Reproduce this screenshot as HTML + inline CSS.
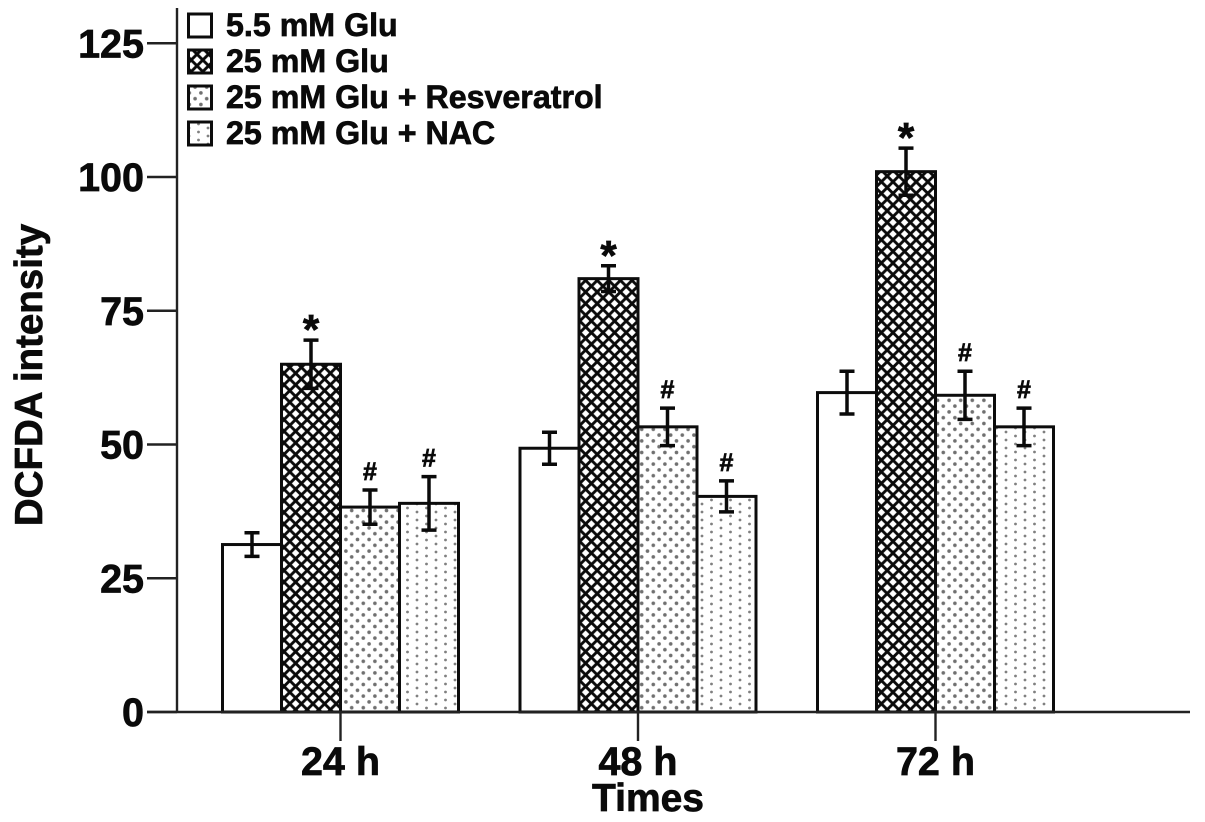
<!DOCTYPE html>
<html>
<head>
<meta charset="utf-8">
<title>DCFDA intensity chart</title>
<style>
html,body{margin:0;padding:0;background:#fff;width:1205px;height:822px;overflow:hidden}
svg{display:block}
text{font-family:"Liberation Sans",Arial,sans-serif;font-weight:bold;fill:#0a0a0a;stroke:#0a0a0a;stroke-width:0.7px}
</style>
</head>
<body>
<svg id="chart" width="1205" height="822" viewBox="0 0 1205 822" xmlns="http://www.w3.org/2000/svg">
<defs>
<pattern id="p-cross" patternUnits="userSpaceOnUse" width="11.6" height="11.6" x="284" y="2">
<rect width="11.6" height="11.6" fill="#fff"/>
<path d="M-2.9 2.9L2.9 -2.9M-2.9 14.5L14.5 -2.9M8.7 14.5L14.5 8.7M-2.9 8.7L2.9 14.5M-2.9 -2.9L14.5 14.5M8.7 -2.9L14.5 2.9" stroke="#0a0a0a" stroke-width="2.9" fill="none"/>
</pattern>
<pattern id="p-dense" patternUnits="userSpaceOnUse" width="11.6" height="11.6" x="343" y="3">
<rect width="11.6" height="11.6" fill="#fff"/>
<circle cx="2.9" cy="2.9" r="1.8" fill="#707070"/>
<circle cx="8.7" cy="8.7" r="1.8" fill="#707070"/>
</pattern>
<pattern id="p-sparse" patternUnits="userSpaceOnUse" width="19" height="16" x="405" y="2">
<rect width="19" height="16" fill="#fff"/>
<circle cx="2.5" cy="2" r="1.4" fill="#808080"/>
<circle cx="2.5" cy="10" r="1.4" fill="#808080"/>
<circle cx="12" cy="6" r="1.4" fill="#808080"/>
<circle cx="12" cy="14" r="1.4" fill="#808080"/>
</pattern>
</defs>
<g id="plot"></g>
<text transform="translate(42,375) rotate(-90)" text-anchor="middle" font-size="38.5">DCFDA intensity</text>
<text x="648" y="811" text-anchor="middle" font-size="39">Times</text>
</svg>
<script>
const categories = ['24 h', '48 h', '72 h'];
const seriesNames = ['5.5 mM Glu', '25 mM Glu', '25 mM Glu + Resveratrol', '25 mM Glu + NAC'];
const glu55Values = [31.3, 49.3, 59.7];
const glu25Values = [65, 81, 101];
const resveratrolValues = [38.3, 53.3, 59.2];
const nacValues = [39, 40.3, 53.3];
const glu55Errors = [2.2, 3, 4];
const glu25Errors = [4.5, 2.4, 4.4];
const resveratrolErrors = [3.2, 3.5, 4.5];
const nacErrors = [5, 2.9, 3.5];
const glu55Marks = ['', '', ''];
const glu25Marks = ['*', '*', '*'];
const resveratrolMarks = ['#', '#', '#'];
const nacMarks = ['#', '#', '#'];
const yTicks = [0, 25, 50, 75, 100, 125];

const allValues = [glu55Values, glu25Values, resveratrolValues, nacValues];
const allErrors = [glu55Errors, glu25Errors, resveratrolErrors, nacErrors];
const allMarks = [glu55Marks, glu25Marks, resveratrolMarks, nacMarks];
const fills = ['#fff', 'url(#p-cross)', 'url(#p-dense)', 'url(#p-sparse)'];

const NS = 'http://www.w3.org/2000/svg';
const plot = document.getElementById('plot');
const yScale = v => 712 - v * 5.35;
const xBand = i => 340.5 + i * 297.5;
const BAR_W = 59;
const barX = (g, s) => xBand(g) + (s - 2) * BAR_W;

function make(tag, attrs, text) {
  const el = document.createElementNS(NS, tag);
  for (const k in attrs) el.setAttribute(k, attrs[k]);
  if (text !== undefined) el.textContent = text;
  plot.appendChild(el);
  return el;
}

// bars, error bars and significance marks
allValues.forEach((vals, s) => {
  vals.forEach((v, g) => {
    const bar = make('rect', {x: barX(g, s), y: yScale(v), width: BAR_W, height: yScale(0) - yScale(v), fill: fills[s], stroke: '#0c0c0c', 'stroke-width': 3});
    
    
  });
});
allValues.forEach((vals, s) => {
  vals.forEach((v, g) => {
    const cx = barX(g, s) + BAR_W / 2;
    const e = allErrors[s][g];
    const top = yScale(v + e), bot = yScale(v - e);
    const err = make('path', {d: `M${cx} ${top}V${bot}M${cx - 7.5} ${top}H${cx + 7.5}M${cx - 7.5} ${bot}H${cx + 7.5}`, stroke: '#0a0a0a', 'stroke-width': 3.5, fill: 'none'});
    
    
    const mark = allMarks[s][g];
    if (mark) {
      const big = mark === '*';
      const t = make('text', {x: cx, y: big ? top + 4 : top - 10, 'text-anchor': 'middle', 'font-size': big ? 42 : 25}, mark);
      
      
    }
  });
});

// axes
const yAxis = make('line', {x1: 177, y1: 8, x2: 177, y2: 713, stroke: '#222', 'stroke-width': 2.4});


const xAxis = make('line', {x1: 147, y1: yScale(0), x2: 1190, y2: yScale(0), stroke: '#222', 'stroke-width': 2.4});



yTicks.forEach(v => {
  const tick = make('line', {x1: 147, x2: 177, y1: yScale(v), y2: yScale(v), stroke: '#222', 'stroke-width': 2.4});
  
  
  const label = make('text', {x: 144, y: yScale(v) + 14, 'text-anchor': 'end', 'font-size': 39.5}, v);
  
  
});
categories.forEach((c, g) => {
  const tick = make('line', {x1: xBand(g), x2: xBand(g), y1: yScale(0), y2: 741, stroke: '#222', 'stroke-width': 2.4});
  
  
  const label = make('text', {x: xBand(g), y: 775, 'text-anchor': 'middle', 'font-size': 39.5}, c);
  
  
});

// legend
seriesNames.forEach((name, s) => {
  const y = 14 + s * 36;
  const swatch = make('rect', {x: 188.5, y: y, width: 23, height: 23, fill: fills[s], stroke: '#0c0c0c', 'stroke-width': 3});
  
  
  const label = make('text', {x: 226, y: y + 22, 'font-size': 32.2}, name);
  
  
});
</script>
</body>
</html>
